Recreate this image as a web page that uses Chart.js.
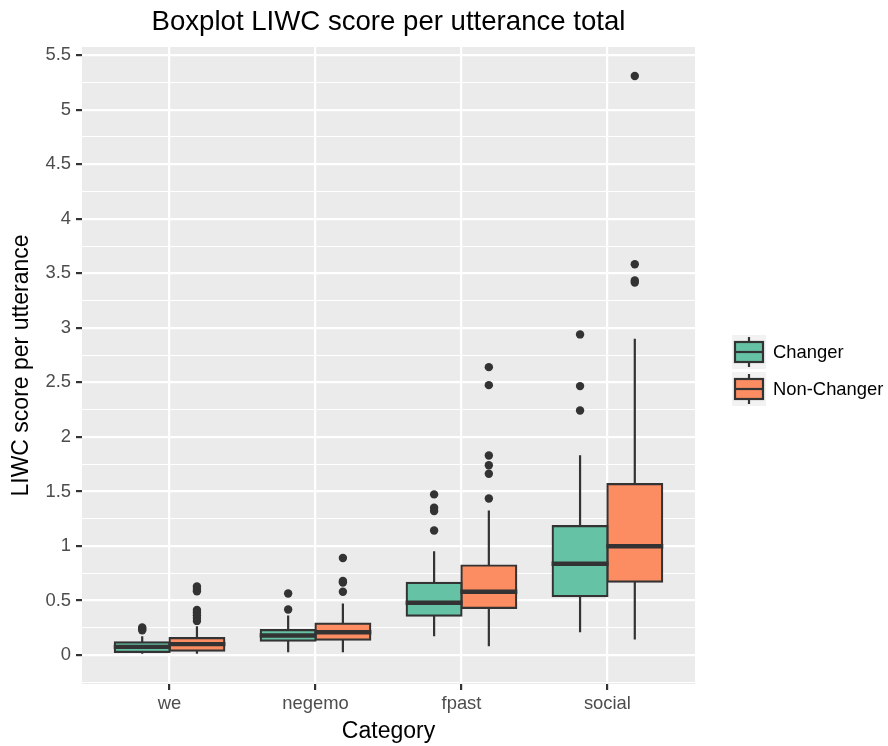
<!DOCTYPE html>
<html>
<head>
<meta charset="utf-8">
<title>Boxplot LIWC score per utterance total</title>
<script src="https://cdn.jsdelivr.net/npm/chart.js@4/dist/chart.umd.min.js"></script>
<style>
  html, body { margin: 0; padding: 0; background: #ffffff; }
  #c { display: block; }
</style>
</head>
<body>
<canvas id="c" width="888" height="746"></canvas>
<script>
// ---- data -------------------------------------------------------------
const categories = ['we', 'negemo', 'fpast', 'social'];
const seriesNames = ['Changer', 'Non-Changer'];
const seriesColors = ['#66C2A5', '#FC8D62'];

// five-number summaries per category (we, negemo, fpast, social)
const changerLow    = [0.011, 0.026, 0.173, 0.209];
const changerQ1     = [0.029, 0.133, 0.362, 0.540];
const changerMedian = [0.075, 0.179, 0.479, 0.837];
const changerQ3     = [0.117, 0.228, 0.662, 1.182];
const changerHigh   = [0.172, 0.362, 0.952, 1.833];
const changerOutliers = [
  [0.228, 0.240, 0.252],
  [0.417, 0.564],
  [1.142, 1.320, 1.350, 1.473],
  [2.243, 2.466, 2.940]
];

const nonChangerLow    = [0.011, 0.026, 0.081, 0.142];
const nonChangerQ1     = [0.041, 0.142, 0.433, 0.674];
const nonChangerMedian = [0.100, 0.209, 0.580, 0.998];
const nonChangerQ3     = [0.155, 0.289, 0.821, 1.567];
const nonChangerHigh   = [0.264, 0.472, 1.326, 2.900];
const nonChangerOutliers = [
  [0.313, 0.340, 0.365, 0.390, 0.414, 0.585, 0.605, 0.628],
  [0.580, 0.665, 0.680, 0.890],
  [1.436, 1.662, 1.741, 1.830, 2.475, 2.640],
  [3.415, 3.435, 3.583, 5.310]
];

const yTickStep = 0.25;          // minor + major gridlines; labels every 0.5
const yMin = -0.2655, yMax = 5.5755;

// ---- helpers ------------------------------------------------------------
const FONT = "'Liberation Sans', Arial, Helvetica, sans-serif";
const INK = '#333333';
const DODGE = 0.75;              // share of a category taken by the dodged boxes
const LW = 2.2;                  // box / whisker line width
const series = [
  { low: changerLow, q1: changerQ1, med: changerMedian, q3: changerQ3, high: changerHigh, out: changerOutliers },
  { low: nonChangerLow, q1: nonChangerQ1, med: nonChangerMedian, q3: nonChangerQ3, high: nonChangerHigh, out: nonChangerOutliers }
];
const isMajor = v => Math.abs(v * 2 - Math.round(v * 2)) < 1e-9;
const dodgeOffset = s => (s - (series.length - 1) / 2) * DODGE / series.length;

// boxes: floating bars spanning Q1..Q3
const boxSets = series.map((s, si) => ({
  type: 'bar',
  label: seriesNames[si],
  data: categories.map((c, i) => ({ x: i, y: [s.q1[i], s.q3[i]] })),
  backgroundColor: seriesColors[si],
  borderColor: INK,
  borderWidth: LW,
  borderSkipped: false,
  inflateAmount: LW / 2,
  order: 1
}));

// outlying points, placed at the dodged position of their box
const outlierSets = series.map((s, si) => ({
  type: 'scatter',
  label: seriesNames[si] + ' outliers',
  data: categories.flatMap((c, i) => s.out[i].map(v => ({ x: i + dodgeOffset(si), y: v }))),
  pointRadius: 4.2,
  pointBackgroundColor: INK,
  pointBorderWidth: 0,
  showLine: false,
  order: 0
}));

// ---- plugins ------------------------------------------------------------
const panelBackground = {
  id: 'panelBackground',
  beforeDraw(chart) {
    const { ctx, chartArea: a } = chart;
    ctx.save();
    ctx.fillStyle = '#ffffff';
    ctx.fillRect(0, 0, chart.width, chart.height);
    ctx.fillStyle = '#EBEBEB';
    ctx.fillRect(a.left, a.top, a.right - a.left, a.bottom - a.top);
    ctx.restore();
  }
};

const boxParts = {
  id: 'boxParts',
  beforeDatasetsDraw(chart) {
    const { ctx } = chart;
    const y = chart.scales.y;
    ctx.save();
    ctx.strokeStyle = INK;
    ctx.lineWidth = LW;
    ctx.lineCap = 'butt';
    series.forEach((s, si) => {
      chart.getDatasetMeta(si).data.forEach((el, i) => {
        ctx.beginPath();
        ctx.moveTo(el.x, y.getPixelForValue(s.q3[i]));
        ctx.lineTo(el.x, y.getPixelForValue(s.high[i]));
        ctx.moveTo(el.x, y.getPixelForValue(s.q1[i]));
        ctx.lineTo(el.x, y.getPixelForValue(s.low[i]));
        ctx.stroke();
      });
    });
    ctx.restore();
  },
  afterDatasetsDraw(chart) {
    const { ctx } = chart;
    const y = chart.scales.y;
    ctx.save();
    ctx.strokeStyle = INK;
    ctx.lineWidth = LW * 2;
    series.forEach((s, si) => {
      chart.getDatasetMeta(si).data.forEach((el, i) => {
        const py = y.getPixelForValue(s.med[i]);
        const half = el.width / 2 + LW / 2;
        ctx.beginPath();
        ctx.moveTo(el.x - half, py);
        ctx.lineTo(el.x + half, py);
        ctx.stroke();
      });
    });
    ctx.restore();
  }
};

const titleAndLegend = {
  id: 'titleAndLegend',
  afterDraw(chart) {
    const { ctx, chartArea: a } = chart;
    ctx.save();
    // plot title, centred over the panel
    ctx.fillStyle = '#000000';
    ctx.font = '27.6px ' + FONT;
    ctx.textAlign = 'center';
    ctx.textBaseline = 'alphabetic';
    ctx.fillText('Boxplot LIWC score per utterance total', (a.left + a.right) / 2, 30);

    // legend keys with a miniature box glyph
    const key = 34, gap = 3, kx = a.right + 37;
    const top = (a.top + a.bottom) / 2 + 5 - (seriesNames.length * key + (seriesNames.length - 1) * gap) / 2;
    seriesNames.forEach((name, i) => {
      const ky = top + i * (key + gap);
      ctx.fillStyle = '#F2F2F2';
      ctx.fillRect(kx, ky, key, key);
      const cx = kx + key / 2;
      ctx.strokeStyle = INK;
      ctx.lineWidth = LW;
      ctx.beginPath();
      ctx.moveTo(cx, ky + 2); ctx.lineTo(cx, ky + key - 2);
      ctx.stroke();
      ctx.fillStyle = seriesColors[i];
      ctx.fillRect(kx + 3, ky + 7, key - 6, key - 14);
      ctx.strokeRect(kx + 3, ky + 7, key - 6, key - 14);
      ctx.beginPath();
      ctx.moveTo(kx + 3, ky + key / 2); ctx.lineTo(kx + key - 3, ky + key / 2);
      ctx.stroke();
      ctx.fillStyle = '#000000';
      ctx.font = '18.4px ' + FONT;
      ctx.textAlign = 'left';
      ctx.textBaseline = 'middle';
      ctx.fillText(name, kx + key + 7, ky + key / 2 + 1);
    });
    ctx.restore();
  }
};

// ---- chart ----------------------------------------------------------------
new Chart(document.getElementById('c'), {
  type: 'bar',
  data: { datasets: [...boxSets, ...outlierSets] },
  options: {
    responsive: false,
    animation: false,
    events: [],
    layout: { padding: { left: 0, top: 47, right: 193, bottom: 0 } },
    datasets: { bar: { categoryPercentage: DODGE, barPercentage: 1 } },
    plugins: {
      legend: { display: false },
      tooltip: { enabled: false },
      title: { display: false }
    },
    scales: {
      x: {
        type: 'linear',
        min: -0.6,
        max: categories.length - 1 + 0.6,
        offset: false,
        border: { display: false },
        grid: {
          offset: false,
          color: '#ffffff',
          lineWidth: LW,
          tickColor: INK,
          tickWidth: LW,
          tickLength: 6
        },
        ticks: {
          stepSize: 1,
          includeBounds: false,
          autoSkip: false,
          maxRotation: 0,
          padding: 3,
          color: '#4D4D4D',
          font: { family: FONT, size: 18.4 },
          callback: v => categories[v] ?? ''
        },
        title: {
          display: true,
          text: 'Category',
          color: '#000000',
          font: { family: FONT, size: 23 },
          padding: { top: 0, bottom: 0.7 }
        },
        afterFit: s => { s.height = 62; }
      },
      y: {
        type: 'linear',
        min: yMin,
        max: yMax,
        border: { display: false },
        grid: {
          color: '#ffffff',
          lineWidth: c => isMajor(c.tick.value) ? LW : LW / 2,
          tickColor: c => isMajor(c.tick.value) ? INK : 'rgba(0,0,0,0)',
          tickWidth: LW,
          tickLength: 6
        },
        ticks: {
          stepSize: yTickStep,
          includeBounds: false,
          autoSkip: false,
          padding: 5,
          color: '#4D4D4D',
          font: { family: FONT, size: 18.4 },
          callback: v => isMajor(v) ? String(Math.round(v * 100) / 100) : ''
        },
        title: {
          display: true,
          text: 'LIWC score per utterance',
          color: '#000000',
          font: { family: FONT, size: 23 },
          padding: { top: 8, bottom: 0 }
        },
        afterFit: s => { s.width = 82; }
      }
    }
  },
  plugins: [panelBackground, boxParts, titleAndLegend]
});
</script>
</body>
</html>
